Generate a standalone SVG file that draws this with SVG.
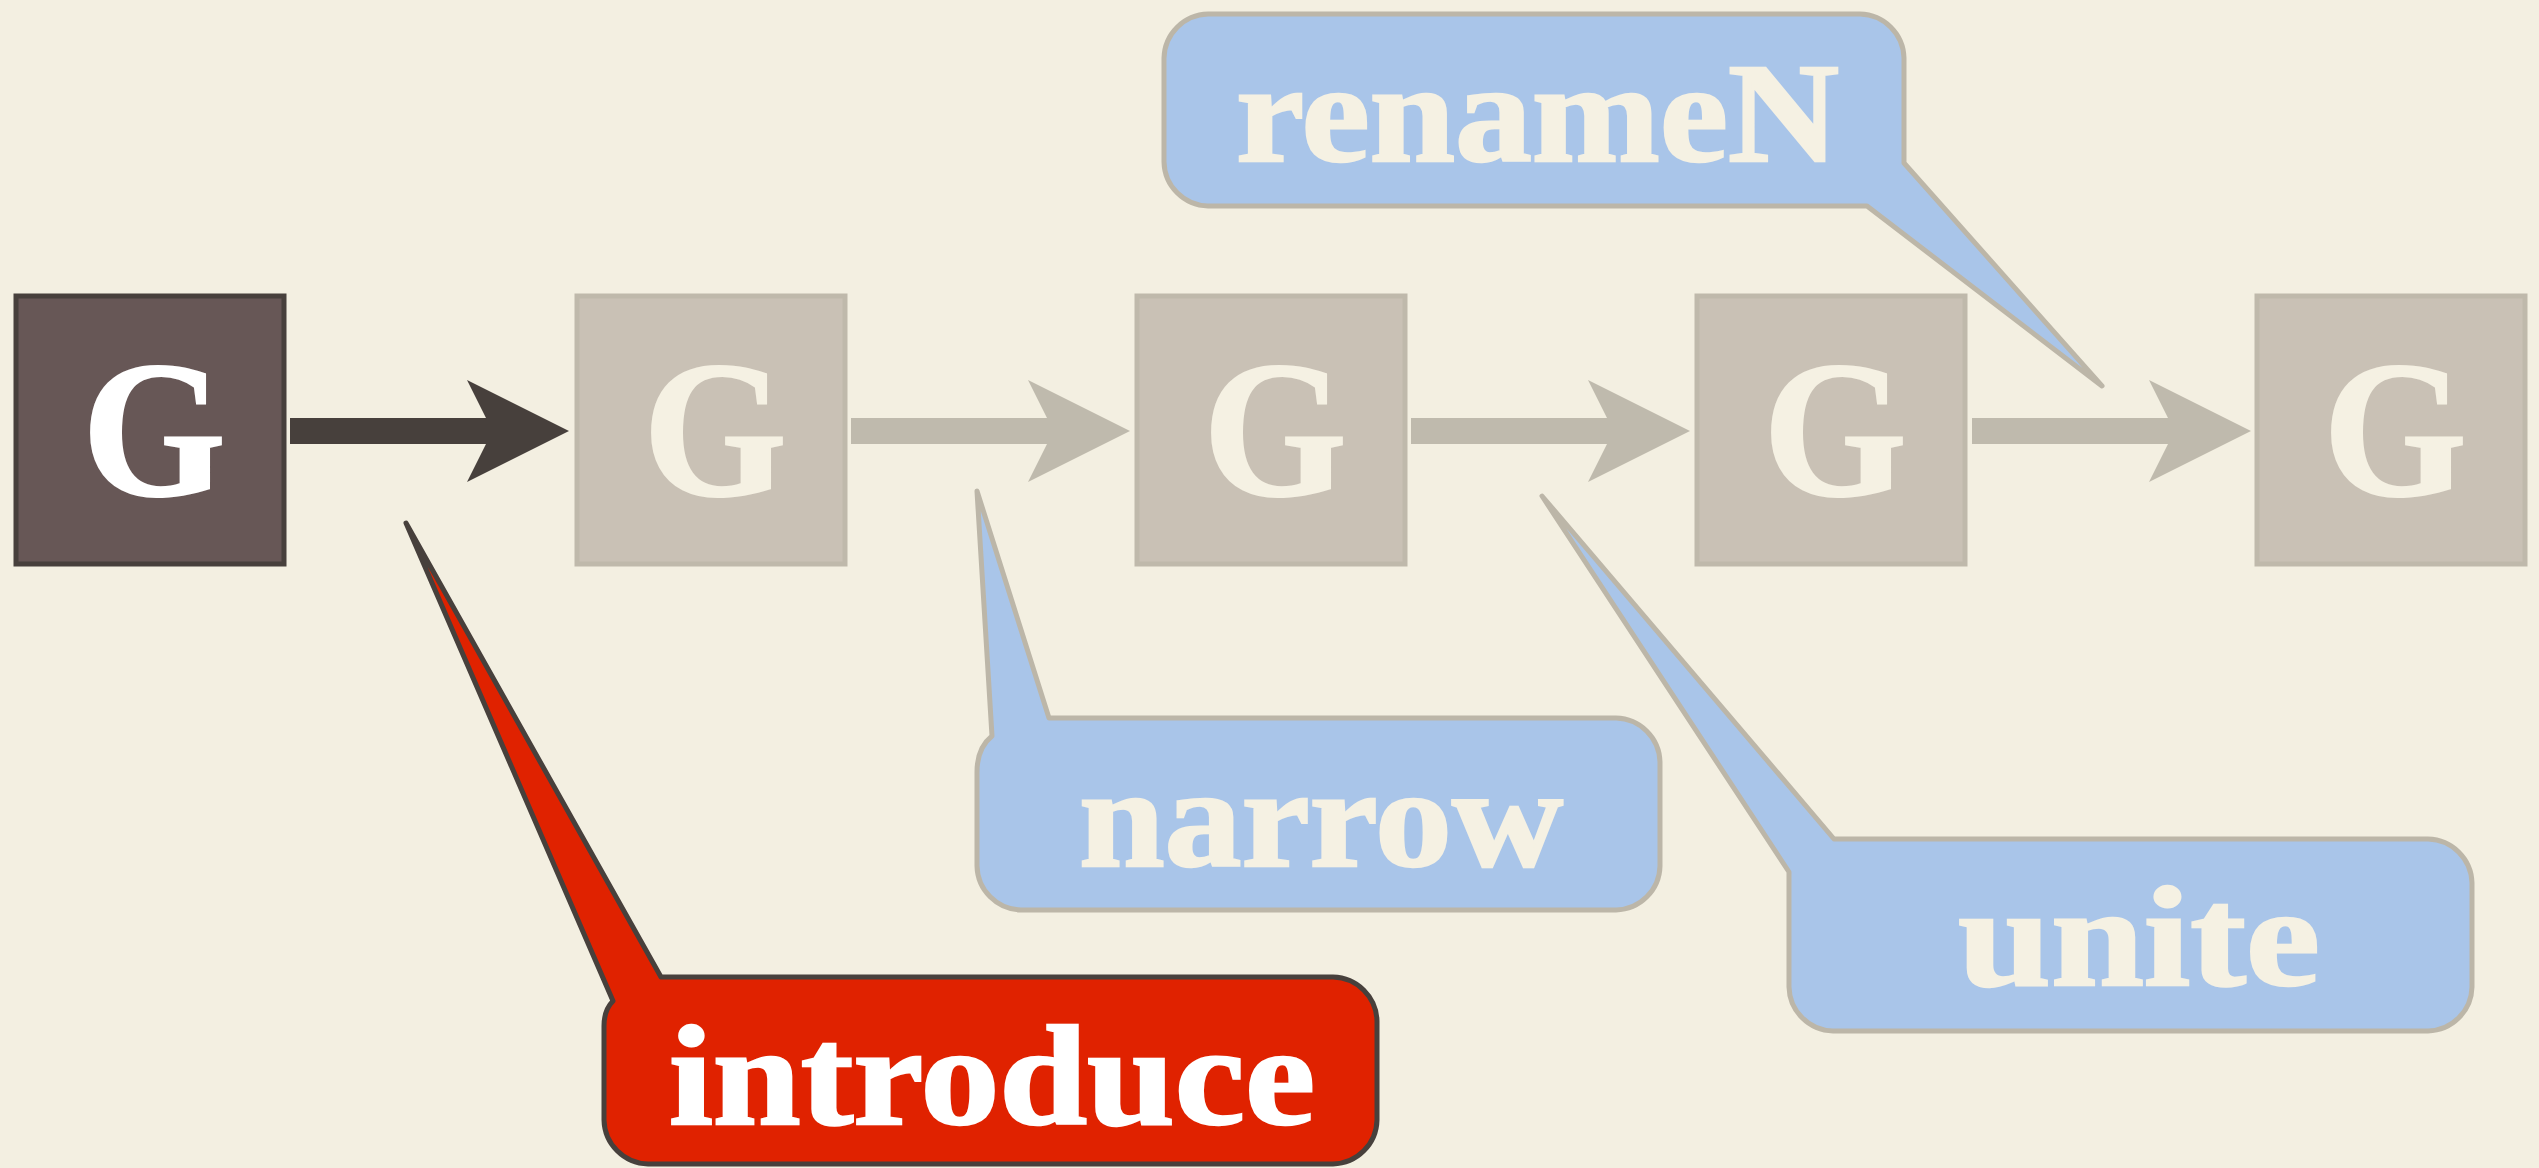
<svg xmlns="http://www.w3.org/2000/svg" width="2539" height="1168" viewBox="0 0 2539 1168">
<style>
.bg{fill:#f3efe1}
.box{fill:#c9c1b5;stroke:#bfb9ab;stroke-width:5}
.boxd{fill:#675756;stroke:#47403c;stroke-width:5}
.g{font-weight:700;font-size:196px;fill:#f5f1e3;stroke:#f5f1e3;stroke-width:2}
.gd{fill:#ffffff;stroke:#ffffff}
.arr{fill:#bfbaad}
.arrd{fill:#47403c}
.bub{fill:#a9c5e9;stroke:#bcb6a8;stroke-width:5;stroke-linejoin:round}
.bubr{fill:#e02200;stroke:#47403c;stroke-width:5;stroke-linejoin:round}
.lbl{font-weight:700;font-size:142px;fill:#f5f1e3;stroke:#f5f1e3;stroke-width:2.5}
.lblw{fill:#ffffff;stroke:#ffffff}
</style>
<rect class="bg" x="0" y="0" width="2539" height="1168"/>
<g id="connectors">
<polygon class="arrd" points="290,418 486,418 467,380 569,431 467,482 486,444 290,444"/>
<polygon class="arr" points="851,418 1047,418 1028,380 1130,431 1028,482 1047,444 851,444"/>
<polygon class="arr" points="1411,418 1607,418 1588,380 1690,431 1588,482 1607,444 1411,444"/>
<polygon class="arr" points="1972,418 2168,418 2149,380 2251,431 2149,482 2168,444 1972,444"/>
</g>
<g font-family="Liberation Serif, Times New Roman, Times, serif">
<g id="node1"><rect class="boxd" x="16" y="296" width="268" height="268"/><text class="g gd" x="82" y="495" textLength="144" lengthAdjust="spacingAndGlyphs">G</text></g>
<g id="node2"><rect class="box" x="577" y="296" width="268" height="268"/><text class="g" x="643" y="495" textLength="144" lengthAdjust="spacingAndGlyphs">G</text></g>
<g id="node3"><rect class="box" x="1137" y="296" width="268" height="268"/><text class="g" x="1203" y="495" textLength="144" lengthAdjust="spacingAndGlyphs">G</text></g>
<g id="node4"><rect class="box" x="1697" y="296" width="268" height="268"/><text class="g" x="1763" y="495" textLength="144" lengthAdjust="spacingAndGlyphs">G</text></g>
<g id="node5"><rect class="box" x="2257" y="296" width="268" height="268"/><text class="g" x="2323" y="495" textLength="144" lengthAdjust="spacingAndGlyphs">G</text></g>
<g id="bubble-renameN">
<path class="bub" d="M1208,14 H1860 A45,45 0 0 1 1904,58 V163 L2102,386 L1867,206 H1208 A45,45 0 0 1 1164,162 V58 A45,45 0 0 1 1208,14 Z"/>
<text class="lbl" x="1236" y="161" textLength="603" lengthAdjust="spacingAndGlyphs">renameN</text>
</g>
<g id="bubble-narrow">
<path class="bub" d="M1049,718 H1616 A45,45 0 0 1 1660,762 V866 A45,45 0 0 1 1616,910 H1021 A45,45 0 0 1 977,866 V772 Q977,748 992,736 L977,491 Z"/>
<text class="lbl" x="1079" y="866" textLength="484" lengthAdjust="spacingAndGlyphs">narrow</text>
</g>
<g id="bubble-unite">
<path class="bub" d="M1834,839 H2428 A45,45 0 0 1 2472,883 V987 A45,45 0 0 1 2428,1031 H1833 A45,45 0 0 1 1789,987 V872 L1542,496 Z"/>
<text class="lbl" x="1958" y="985" textLength="362" lengthAdjust="spacingAndGlyphs">unite</text>
</g>
<g id="bubble-introduce">
<path class="bubr" d="M661,977 H1333 A45,45 0 0 1 1377,1021 V1120 A45,45 0 0 1 1333,1164 H648 A45,45 0 0 1 604,1120 V1026 Q604,1010 613,1001 L406,523 Z"/>
<text class="lbl lblw" x="669" y="1124" textLength="646" lengthAdjust="spacingAndGlyphs">introduce</text>
</g>
</g>
</svg>
